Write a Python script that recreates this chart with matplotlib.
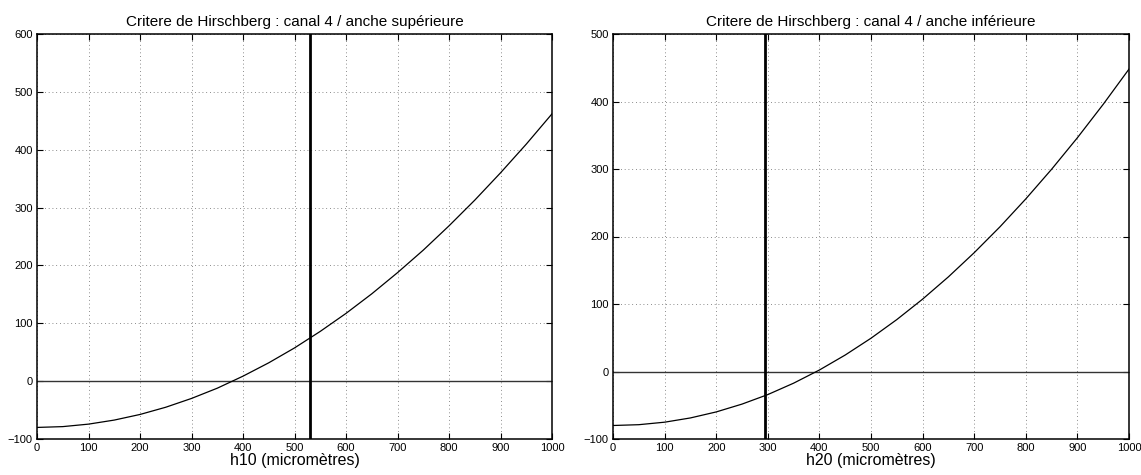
import numpy as np
import matplotlib
matplotlib.use("Agg")
import matplotlib.pyplot as plt

plt.rcParams['font.family'] = ['Liberation Sans', 'DejaVu Sans']

# Opening h (micrometres) and Hirschberg criterion for both reeds
h = [0, 50, 100, 150, 200, 250, 300, 350, 400, 450, 500,
     550, 600, 650, 700, 750, 800, 850, 900, 950, 1000]

crit_sup = [-80.0, -78.6, -74.3, -67.3, -57.6, -45.1, -29.9, -12.2, 8.6, 31.7, 57.4,
            86.0, 117.1, 150.9, 187.5, 226.4, 268.4, 312.8, 360.0, 409.6, 462.0]
crit_inf = [-80.0, -78.8, -75.1, -68.8, -59.9, -48.3, -34.2, -17.3, 2.2, 24.4, 49.3,
            76.9, 107.2, 140.2, 176.0, 214.4, 255.7, 299.6, 346.3, 395.8, 448.0]

h10_op = 530
h20_op = 295

titles = ["Critere de Hirschberg : canal 4 / anche supérieure",
          "Critere de Hirschberg : canal 4 / anche inférieure"]
xlabels = ["h10 (micromètres)", "h20 (micromètres)"]
ylims = [(-100, 600), (-100, 500)]
xticks = list(range(0, 1001, 100))

fig = plt.figure(figsize=(11.41, 4.75), dpi=100)
ax1 = fig.add_axes([37 / 1141, 36 / 475, 515 / 1141, 405 / 475])
ax2 = fig.add_axes([613 / 1141, 36 / 475, 516 / 1141, 405 / 475])

for ax, crit, hop, title, xl, yl in zip(
        [ax1, ax2], [crit_sup, crit_inf], [h10_op, h20_op], titles, xlabels, ylims):
    ax.plot(h, crit, color='black', lw=0.9, zorder=3)
    ax.axhline(0, color='#333333', lw=1.0, zorder=2)
    ax.axvline(hop, color='black', lw=2.0, zorder=4)
    ax.set_xlim(0, 1000)
    ax.set_ylim(*yl)
    ax.set_xticks(xticks)
    ax.set_yticks(list(range(yl[0], yl[1] + 1, 100)))
    ax.grid(True, color='#666666', linestyle=(0, (1, 3.5)), linewidth=0.6)
    ax.tick_params(direction='in', top=True, right=True, length=4, width=0.8,
                   labelsize=8, pad=3, color='black')
    for sp in ax.spines.values():
        sp.set_linewidth(1.1)
    ax.set_title(title, fontsize=11, pad=6)
    ax.set_xlabel(xl, fontsize=11.5, labelpad=0)

fig.savefig("out.png", dpi=100)
